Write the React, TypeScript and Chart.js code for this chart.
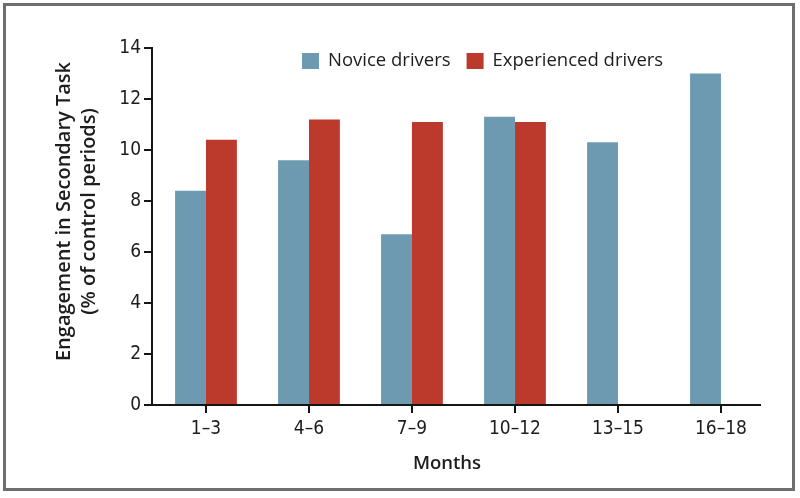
import React, { useEffect, useRef } from 'react';
import { Chart, registerables } from 'chart.js';

Chart.register(...registerables);

const categories = ['1–3', '4–6', '7–9', '10–12', '13–15', '16–18'];
const noviceValues: (number | null)[] = [8.4, 9.6, 6.7, 11.3, 10.3, 13.0];
const experiencedValues: (number | null)[] = [10.4, 11.2, 11.1, 11.1, null, null];
const seriesLabels = ['Novice drivers', 'Experienced drivers'];
const yMin = 0;
const yMax = 14;
const yStep = 2;
const xTitle = 'Months';
const yTitle = ['Engagement in Secondary Task', '(% of control periods)'];

const NOVICE_COLOR = '#6d9ab0';
const EXPERIENCED_COLOR = '#bc3a2b';
const TEXT_COLOR = '#1e1c1d';
const AXIS_COLOR = '#151515';
const FONT = '"Open Sans", "DejaVu Sans", sans-serif';
const NARROW = '"Liberation Sans Narrow", "DejaVu Sans Condensed", sans-serif';

const overlayPlugin = {
  id: 'overlay',
  afterDraw(chart: any) {
    const { ctx, chartArea } = chart;
    ctx.save();
    // legend
    ctx.font = `18.5px ${FONT}`;
    ctx.textBaseline = 'middle';
    ctx.textAlign = 'left';
    let x = chartArea.left + 150;
    const y = chartArea.top + 13;
    chart.data.datasets.forEach((ds: any) => {
      ctx.fillStyle = ds.backgroundColor;
      ctx.fillRect(x, y - 8, 17, 16);
      x += 17 + 9;
      ctx.fillStyle = TEXT_COLOR;
      ctx.fillText(ds.label, x, y);
      x += ctx.measureText(ds.label).width + 16;
    });
    // x title
    ctx.font = `600 18.5px ${FONT}`;
    ctx.textAlign = 'center';
    ctx.fillStyle = TEXT_COLOR;
    ctx.fillText(xTitle, (chartArea.left + chartArea.right) / 2 - 9, chartArea.bottom + 59);
    // y title
    const cy = (chartArea.top + chartArea.bottom) / 2 - 15;
    ctx.translate(64, cy);
    ctx.rotate(-Math.PI / 2);
    ctx.font = `600 20px ${FONT}`;
    yTitle.forEach((line, i) => {
      ctx.fillText(line, 0, i * 25);
    });
    ctx.restore();
  },
};

export default function App() {
  const canvasRef = useRef<HTMLCanvasElement | null>(null);

  useEffect(() => {
    const canvas = canvasRef.current;
    if (!canvas) return;
    const chart = new Chart(canvas, {
      type: 'bar',
      data: {
        datasets: [
          {
            label: seriesLabels[0],
            data: noviceValues.map((v, i) => ({ x: i, y: v })) as any,
            backgroundColor: NOVICE_COLOR,
            borderWidth: 0,
          },
          {
            label: seriesLabels[1],
            data: experiencedValues.map((v, i) => ({ x: i, y: v })) as any,
            backgroundColor: EXPERIENCED_COLOR,
            borderWidth: 0,
          },
        ],
      },
      options: {
        responsive: false,
        animation: false,
        devicePixelRatio: 1,
        layout: { padding: { left: 52, top: 48, right: 40, bottom: 0 } },
        datasets: { bar: { categoryPercentage: 0.6, barPercentage: 1 } },
        plugins: {
          legend: { display: false },
          tooltip: { enabled: false },
        },
        scales: {
          x: {
            type: 'linear',
            offset: false,
            min: -0.524,
            max: 5.379,
            afterFit: (s: any) => {
              s.height = 93;
            },
            grid: {
              display: true,
              offset: false,
              drawOnChartArea: false,
              drawTicks: true,
              tickLength: 8,
              color: AXIS_COLOR,
              lineWidth: 2,
            },
            border: { display: true, color: AXIS_COLOR, width: 2 },
            ticks: {
              stepSize: 1,
              includeBounds: false,
              maxRotation: 0,
              autoSkip: false,
              padding: 5,
              color: TEXT_COLOR,
              font: { family: NARROW, size: 19 },
              callback: (v: any) => categories[v as number] ?? '',
            },
          },
          y: {
            min: yMin,
            max: yMax,
            afterFit: (s: any) => {
              s.width = 152 - 52;
            },
            grid: {
              display: true,
              drawOnChartArea: false,
              drawTicks: true,
              tickLength: 8,
              color: AXIS_COLOR,
              lineWidth: 2,
            },
            border: { display: true, color: AXIS_COLOR, width: 2 },
            ticks: {
              stepSize: yStep,
              padding: 3,
              color: TEXT_COLOR,
              font: { family: NARROW, size: 19 },
            },
          },
        },
      },
      plugins: [overlayPlugin],
    } as any);
    return () => chart.destroy();
  }, []);

  return (
    <div
      style={{
        position: 'fixed',
        left: 0,
        top: 0,
        width: 800,
        height: 498,
        background: '#ffffff',
        overflow: 'hidden',
      }}
    >
      <canvas
        ref={canvasRef}
        width={800}
        height={498}
        style={{ position: 'absolute', left: 0, top: 0, width: 800, height: 498, display: 'block' }}
      />
      <div
        style={{
          position: 'absolute',
          left: 3,
          top: 3,
          width: 792,
          height: 488,
          boxSizing: 'border-box',
          border: '3px solid #6e6e6e',
          pointerEvents: 'none',
        }}
      />
    </div>
  );
}
